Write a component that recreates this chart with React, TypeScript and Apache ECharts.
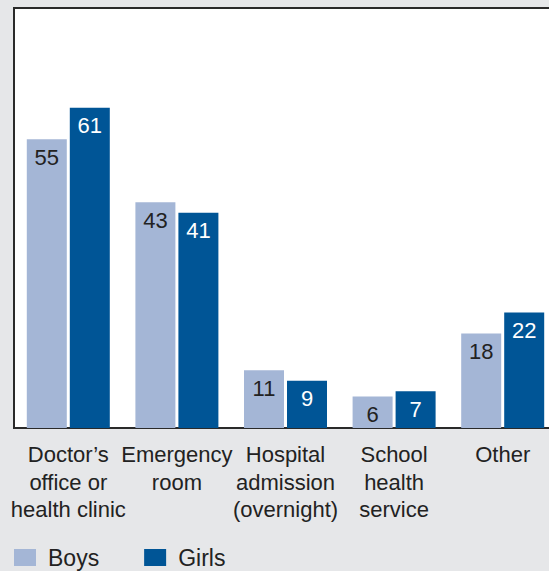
import React, { useEffect, useRef } from "react";
import * as echarts from "echarts";

const categories = [
  "Doctor\u2019s\noffice or\nhealth clinic",
  "Emergency\nroom",
  "Hospital\nadmission\n(overnight)",
  "School\nhealth\nservice",
  "Other",
];
const boys = [55, 43, 11, 6, 18];
const girls = [61, 41, 9, 7, 22];
const seriesNames = ["Boys", "Girls"];

const FONT = "'Liberation Sans', Arial, Helvetica, sans-serif";

export default function App() {
  const ref = useRef<HTMLDivElement>(null);
  useEffect(() => {
    document.body.style.margin = "0";
    const chart = echarts.init(ref.current!, null, { renderer: "svg" });
    chart.setOption({
      animation: false,
      backgroundColor: "#e6e7e9",
      textStyle: { fontFamily: FONT },
      grid: {
        left: 14,
        top: 8,
        width: 543,
        bottom: 143,
        containLabel: false,
        outerBoundsMode: "none",
        show: true,
        backgroundColor: "#ffffff",
        borderColor: "#2a2a2a",
        borderWidth: 2,
      },
      legend: {
        left: 14,
        top: 546,
        padding: 0,
        itemWidth: 22,
        itemHeight: 17,
        itemGap: 45,
        icon: "rect",
        data: seriesNames,
        textStyle: {
          fontFamily: FONT,
          fontSize: 23,
          color: "#222",
          padding: [0, 0, 0, 7],
        },
      },
      xAxis: {
        type: "category",
        data: categories,
        axisLine: { show: true, lineStyle: { color: "#2a2a2a", width: 2 } },
        axisTick: { show: false },
        axisLabel: {
          interval: 0,
          margin: 13,
          fontFamily: FONT,
          fontSize: 22,
          lineHeight: 27.5,
          color: "#222",
          align: "center",
        },
      },
      yAxis: {
        type: "value",
        min: 0,
        max: 80,
        show: false,
        splitLine: { show: false },
      },
      series: [
        {
          name: seriesNames[0],
          type: "bar",
          data: boys,
          barWidth: 40,
          barGap: "7.5%",
          itemStyle: { color: "#a4b6d6" },
          label: {
            show: true,
            position: "insideTop",
            distance: 7,
            fontFamily: FONT,
            fontSize: 22,
            color: "#222",
          },
        },
        {
          name: seriesNames[1],
          type: "bar",
          data: girls,
          barWidth: 40,
          barGap: "7.5%",
          itemStyle: { color: "#005596" },
          label: {
            show: true,
            position: "insideTop",
            distance: 7,
            fontFamily: FONT,
            fontSize: 22,
            color: "#ffffff",
          },
        },
      ],
    });
    return () => chart.dispose();
  }, []);
  return (
    <div
      ref={ref}
      style={{ position: "absolute", left: 0, top: 0, width: 549, height: 571 }}
    />
  );
}
